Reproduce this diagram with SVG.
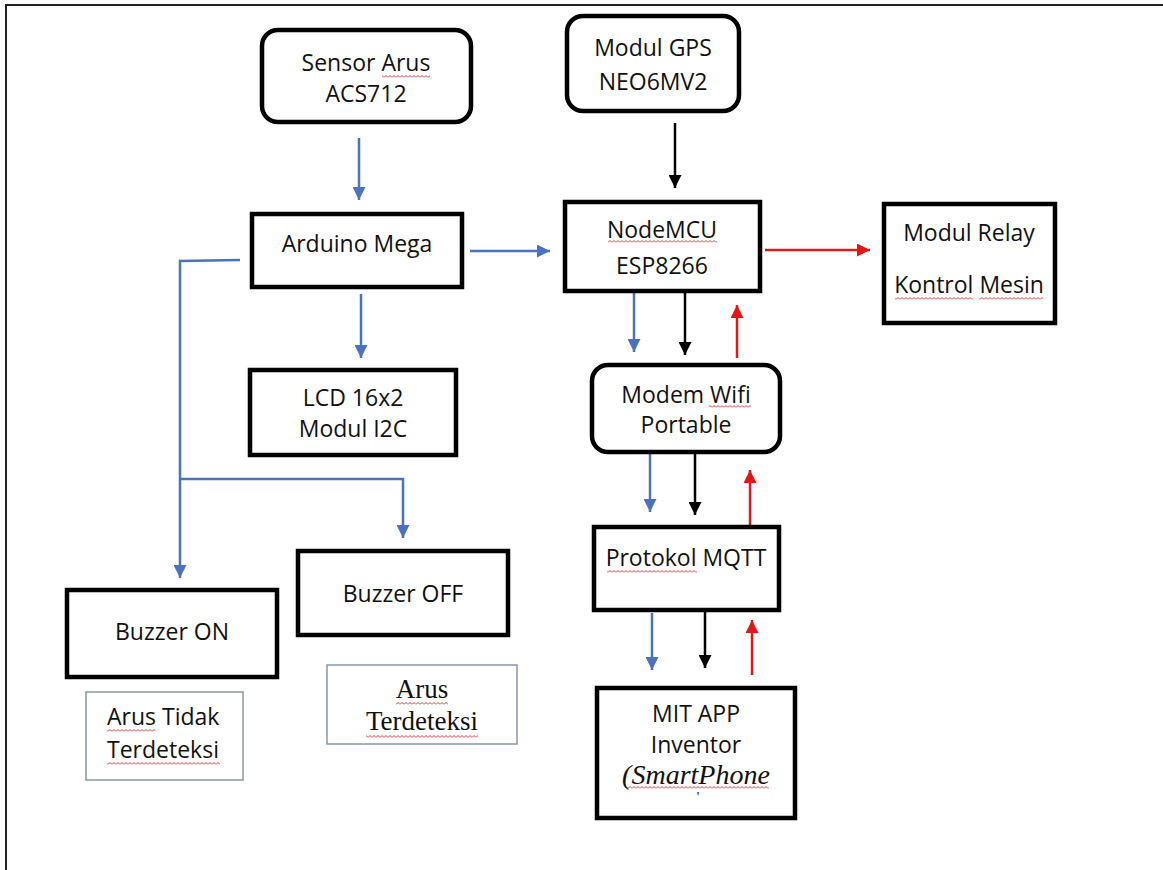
<svg xmlns="http://www.w3.org/2000/svg" width="1163" height="870" viewBox="0 0 1163 870">
<style>
.box{fill:#fff;stroke:#000;stroke-width:4.5}
.note{fill:#fff;stroke:#8796a8;stroke-width:1.5}
.t{font-family:"Open Sans","Liberation Sans",sans-serif;font-size:23px;fill:#111;text-anchor:middle}
.s{font-family:"Liberation Serif","DejaVu Serif",serif;font-size:27px;fill:#111;text-anchor:middle}
.w{fill:url(#wv)}
.b{fill:none;stroke:#4a72bd;stroke-width:2.5}
.k{fill:none;stroke:#000;stroke-width:2.5}
.r{fill:none;stroke:#e01818;stroke-width:2.5}
</style>
<defs>
<pattern id="wv" width="4" height="3" patternUnits="userSpaceOnUse"><path d="M0,2.5 L2,0.5 L4,2.5" fill="none" stroke="#d42020" stroke-width="0.9"/></pattern>
<marker id="ab" markerUnits="userSpaceOnUse" markerWidth="14" markerHeight="13" refX="13" refY="6.5" orient="auto"><path d="M0,0 L13,6.5 L0,13 z" fill="#4a72bd"/></marker>
<marker id="ak" markerUnits="userSpaceOnUse" markerWidth="14" markerHeight="13" refX="13" refY="6.5" orient="auto"><path d="M0,0 L13,6.5 L0,13 z" fill="#000"/></marker>
<marker id="ar" markerUnits="userSpaceOnUse" markerWidth="14" markerHeight="13" refX="13" refY="6.5" orient="auto"><path d="M0,0 L13,6.5 L0,13 z" fill="#e01818"/></marker>
</defs>
<rect width="1163" height="870" fill="#fff"/>
<path d="M6,870 V5 H1163" fill="none" stroke="#222" stroke-width="2"/>

<g id="connectors">
<path class="b" d="M359,138 V200" marker-end="url(#ab)"/>
<path class="k" d="M675,123 V188" marker-end="url(#ak)"/>
<path class="b" d="M470,251 H550" marker-end="url(#ab)"/>
<path class="r" d="M765,250 H870" marker-end="url(#ar)"/>
<path class="b" d="M361,294 V358" marker-end="url(#ab)"/>
<path class="b" d="M240,260 L180,261 V578" marker-end="url(#ab)"/>
<path class="b" d="M180,479 H403 V538" marker-end="url(#ab)"/>
<path class="b" d="M634,293 V352" marker-end="url(#ab)"/>
<path class="k" d="M685,291 V355" marker-end="url(#ak)"/>
<path class="r" d="M737,358 V305" marker-end="url(#ar)"/>
<path class="b" d="M650,454 V512" marker-end="url(#ab)"/>
<path class="k" d="M695,452 V515" marker-end="url(#ak)"/>
<path class="r" d="M750,527 V470" marker-end="url(#ar)"/>
<path class="b" d="M652,613 V670" marker-end="url(#ab)"/>
<path class="k" d="M705,610 V668" marker-end="url(#ak)"/>
<path class="r" d="M752,675 V620" marker-end="url(#ar)"/>
</g>

<g id="sensor"><rect class="box" x="262" y="30" width="209" height="92" rx="16"/>
<text class="t" x="366" y="71">Sensor Arus</text><text class="t" x="366" y="102">ACS712</text>
<rect class="w" x="382" y="75" width="48" height="3"/></g>
<g id="gps"><rect class="box" x="567" y="16" width="172" height="95" rx="16"/>
<text class="t" x="653" y="56">Modul GPS</text><text class="t" x="653" y="90">NEO6MV2</text></g>
<g id="arduino"><rect class="box" x="252" y="214" width="210" height="73"/>
<text class="t" x="357" y="252">Arduino Mega</text></g>
<g id="nodemcu"><rect class="box" x="565" y="202" width="195" height="89"/>
<text class="t" x="662" y="238">NodeMCU</text><text class="t" x="662" y="274">ESP8266</text>
<rect class="w" x="608" y="240" width="109" height="3"/></g>
<g id="relay"><rect class="box" x="884" y="204" width="171" height="119"/>
<text class="t" x="969" y="241">Modul Relay</text><text class="t" x="969" y="293">Kontrol Mesin</text>
<rect class="w" x="895" y="297" width="78" height="3"/><rect class="w" x="979" y="297" width="64" height="3"/></g>
<g id="lcd"><rect class="box" x="250" y="370" width="206" height="85"/>
<text class="t" x="353" y="406">LCD 16x2</text><text class="t" x="353" y="437">Modul I2C</text></g>
<g id="modem"><rect class="box" x="592" y="365" width="188" height="87" rx="16"/>
<text class="t" x="686" y="403">Modem Wifi</text><text class="t" x="686" y="433">Portable</text>
<rect class="w" x="709" y="405" width="42" height="3"/></g>
<g id="mqtt"><rect class="box" x="594" y="527" width="185" height="83"/>
<text class="t" x="686" y="566">Protokol MQTT</text>
<rect class="w" x="607" y="570" width="90" height="3"/></g>
<g id="mit"><rect class="box" x="597" y="688" width="198" height="130"/>
<text class="t" x="696" y="722">MIT APP</text><text class="t" x="696" y="753">Inventor</text>
<text class="s" x="696" y="784" style="font-style:italic;font-size:28px">(SmartPhone</text>
<rect class="w" x="627" y="786" width="142" height="3"/>
<text class="s" x="698" y="802" style="font-size:14px">'</text></g>
<g id="buzzer-on"><rect class="box" x="67" y="590" width="210" height="87"/>
<text class="t" x="172" y="640">Buzzer ON</text></g>
<g id="buzzer-off"><rect class="box" x="298" y="551" width="210" height="84"/>
<text class="t" x="403" y="602">Buzzer OFF</text></g>
<g id="note-tidak"><rect class="note" x="86" y="692" width="157" height="88"/>
<text class="t" x="107" y="725" style="text-anchor:start">Arus Tidak</text>
<text class="t" x="107" y="758" style="text-anchor:start">Terdeteksi</text>
<rect class="w" x="107" y="729" width="48" height="3"/><rect class="w" x="107" y="762" width="113" height="3"/></g>
<g id="note-terdeteksi"><rect class="note" x="327" y="665" width="190" height="79"/>
<text class="s" x="422" y="698">Arus</text>
<text class="s" x="422" y="730">Terdeteksi</text>
<rect class="w" x="396" y="702" width="52" height="3"/><rect class="w" x="366" y="735" width="112" height="3"/></g>
</svg>
